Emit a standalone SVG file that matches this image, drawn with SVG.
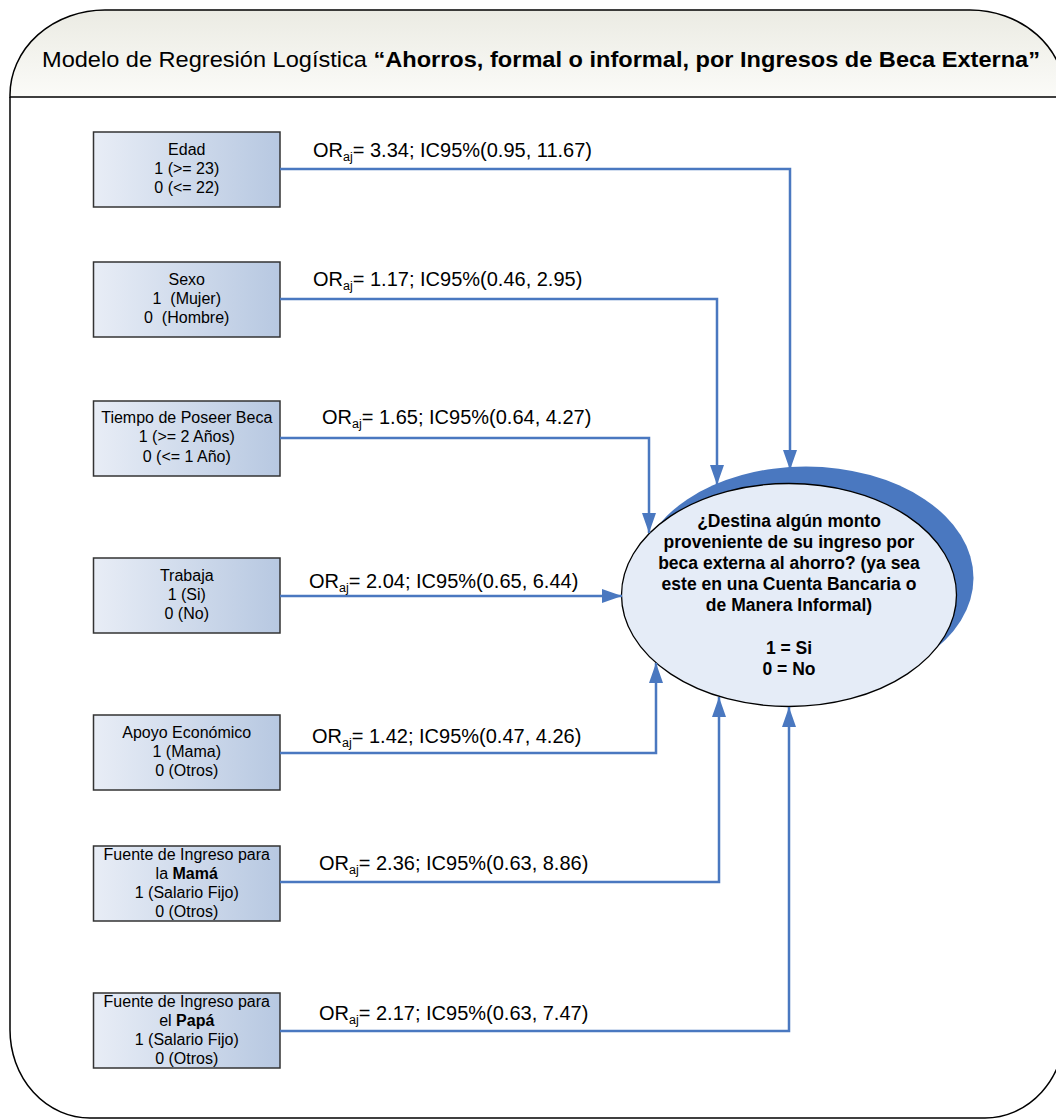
<svg xmlns="http://www.w3.org/2000/svg" width="1056" height="1120" viewBox="0 0 1056 1120">
<style>
.frame{fill:#ffffff;stroke:#000;stroke-width:1.5}
.hdr{fill:url(#hg);stroke:#000;stroke-width:1.5}
.box{fill:url(#bg);stroke:#333;stroke-width:1.5}
.bt{font-family:"Liberation Sans",Arial,sans-serif;font-size:16px;fill:#000;text-anchor:middle;white-space:pre}
.lbl{font-family:"Liberation Sans",Arial,sans-serif;font-size:20px;fill:#000}
.sub{font-size:12.5px}
.et{font-family:"Liberation Sans",Arial,sans-serif;font-size:17.5px;font-weight:bold;fill:#000;text-anchor:middle}
.conn{fill:none;stroke:#4a78c0;stroke-width:2.5}
</style>
<defs>
<linearGradient id="hg" x1="0" y1="0" x2="0" y2="1">
<stop offset="0" stop-color="#ebebe3"/>
<stop offset="1" stop-color="#fbfbf8"/>
</linearGradient>
<linearGradient id="bg" x1="0" y1="0" x2="1" y2="0">
<stop offset="0" stop-color="#e8edf6"/>
<stop offset="1" stop-color="#b7c8e1"/>
</linearGradient>
<marker id="ah" viewBox="0 0 20 14" refX="20" refY="7" markerWidth="20" markerHeight="14" markerUnits="userSpaceOnUse" orient="auto">
<path d="M0,0 L20,7 L0,14 z" fill="#4a78c0"/>
</marker>
</defs>

<g id="frame">
<path class="frame" d="M10,97 L10,1030 A80,88 0 0 0 90,1118 L985,1118 A80,88 0 0 0 1065,1030 L1065,97"/>
<path class="hdr" d="M10,97 L10,95 A95,85 0 0 1 105,10 L970,10 A95,85 0 0 1 1065,95 L1065,97 Z"/>
<text x="42" y="67" textLength="998" lengthAdjust="spacingAndGlyphs" style="font-family:'Liberation Sans',Arial,sans-serif;font-size:22px;fill:#000">Modelo de Regresión Logística <tspan font-weight="bold">“Ahorros, formal o informal, por Ingresos de Beca Externa”</tspan></text>
</g>

<g id="outcome">
<ellipse cx="806" cy="578" rx="167.5" ry="111.5" fill="#4a78c0"/>
<ellipse cx="789" cy="595" rx="167.5" ry="111.5" fill="#e5ecf7" stroke="#000" stroke-width="1.3"/>
<text class="et" x="789" y="527">¿Destina algún monto</text>
<text class="et" x="789" y="548">proveniente de su ingreso por</text>
<text class="et" x="789" y="569">beca externa al ahorro? (ya sea</text>
<text class="et" x="789" y="590">este en una Cuenta Bancaria o</text>
<text class="et" x="789" y="611">de Manera Informal)</text>
<text class="et" x="789" y="654">1 = Si</text>
<text class="et" x="789" y="675">0 = No</text>
</g>

<g id="edad">
<rect class="box" x="93.5" y="132" width="186.5" height="75"/>
<text class="bt" x="186.75" y="155">Edad</text>
<text class="bt" x="186.75" y="174">1 (&gt;= 23)</text>
<text class="bt" x="186.75" y="193">0 (&lt;= 22)</text>
</g>
<g id="sexo">
<rect class="box" x="93.5" y="262" width="186.5" height="75"/>
<text class="bt" x="186.75" y="285">Sexo</text>
<text class="bt" x="186.75" y="304">1  (Mujer)</text>
<text class="bt" x="186.75" y="323">0  (Hombre)</text>
</g>
<g id="tiempo">
<rect class="box" x="93.5" y="401" width="186.5" height="75"/>
<text class="bt" x="186.75" y="423">Tiempo de Poseer Beca</text>
<text class="bt" x="186.75" y="442">1 (&gt;= 2 Años)</text>
<text class="bt" x="186.75" y="462">0 (&lt;= 1 Año)</text>
</g>
<g id="trabaja">
<rect class="box" x="93.5" y="558" width="186.5" height="75"/>
<text class="bt" x="186.75" y="581">Trabaja</text>
<text class="bt" x="186.75" y="600">1 (Si)</text>
<text class="bt" x="186.75" y="619">0 (No)</text>
</g>
<g id="apoyo">
<rect class="box" x="93.5" y="715" width="186.5" height="75"/>
<text class="bt" x="186.75" y="738">Apoyo Económico</text>
<text class="bt" x="186.75" y="757">1 (Mama)</text>
<text class="bt" x="186.75" y="776">0 (Otros)</text>
</g>
<g id="mama">
<rect class="box" x="93.5" y="846" width="186.5" height="75"/>
<text class="bt" x="186.75" y="860">Fuente de Ingreso para</text>
<text class="bt" x="186.75" y="879">la <tspan font-weight="bold">Mamá</tspan></text>
<text class="bt" x="186.75" y="898">1 (Salario Fijo)</text>
<text class="bt" x="186.75" y="917">0 (Otros)</text>
</g>
<g id="papa">
<rect class="box" x="93.5" y="993" width="186.5" height="75"/>
<text class="bt" x="186.75" y="1007">Fuente de Ingreso para</text>
<text class="bt" x="186.75" y="1026">el <tspan font-weight="bold">Papá</tspan></text>
<text class="bt" x="186.75" y="1045">1 (Salario Fijo)</text>
<text class="bt" x="186.75" y="1064">0 (Otros)</text>
</g>

<g id="connectors">
<path class="conn" d="M280,169 H790 V470" marker-end="url(#ah)"/>
<path class="conn" d="M280,299 H717 V485" marker-end="url(#ah)"/>
<path class="conn" d="M280,438 H649 V533" marker-end="url(#ah)"/>
<path class="conn" d="M280,596 H622" marker-end="url(#ah)"/>
<path class="conn" d="M280,753 H656 V663" marker-end="url(#ah)"/>
<path class="conn" d="M280,882 H719 V697" marker-end="url(#ah)"/>
<path class="conn" d="M280,1031 H789 V707" marker-end="url(#ah)"/>
<text class="lbl" x="313" y="157">OR<tspan class="sub" dy="4">aj</tspan><tspan dy="-4">= 3.34; IC95%(0.95, 11.67)</tspan></text>
<text class="lbl" x="313" y="286">OR<tspan class="sub" dy="4">aj</tspan><tspan dy="-4">= 1.17; IC95%(0.46, 2.95)</tspan></text>
<text class="lbl" x="322" y="424">OR<tspan class="sub" dy="4">aj</tspan><tspan dy="-4">= 1.65; IC95%(0.64, 4.27)</tspan></text>
<text class="lbl" x="309" y="588">OR<tspan class="sub" dy="4">aj</tspan><tspan dy="-4">= 2.04; IC95%(0.65, 6.44)</tspan></text>
<text class="lbl" x="312" y="743">OR<tspan class="sub" dy="4">aj</tspan><tspan dy="-4">= 1.42; IC95%(0.47, 4.26)</tspan></text>
<text class="lbl" x="319" y="870">OR<tspan class="sub" dy="4">aj</tspan><tspan dy="-4">= 2.36; IC95%(0.63, 8.86)</tspan></text>
<text class="lbl" x="319" y="1020">OR<tspan class="sub" dy="4">aj</tspan><tspan dy="-4">= 2.17; IC95%(0.63, 7.47)</tspan></text>
</g>
</svg>
